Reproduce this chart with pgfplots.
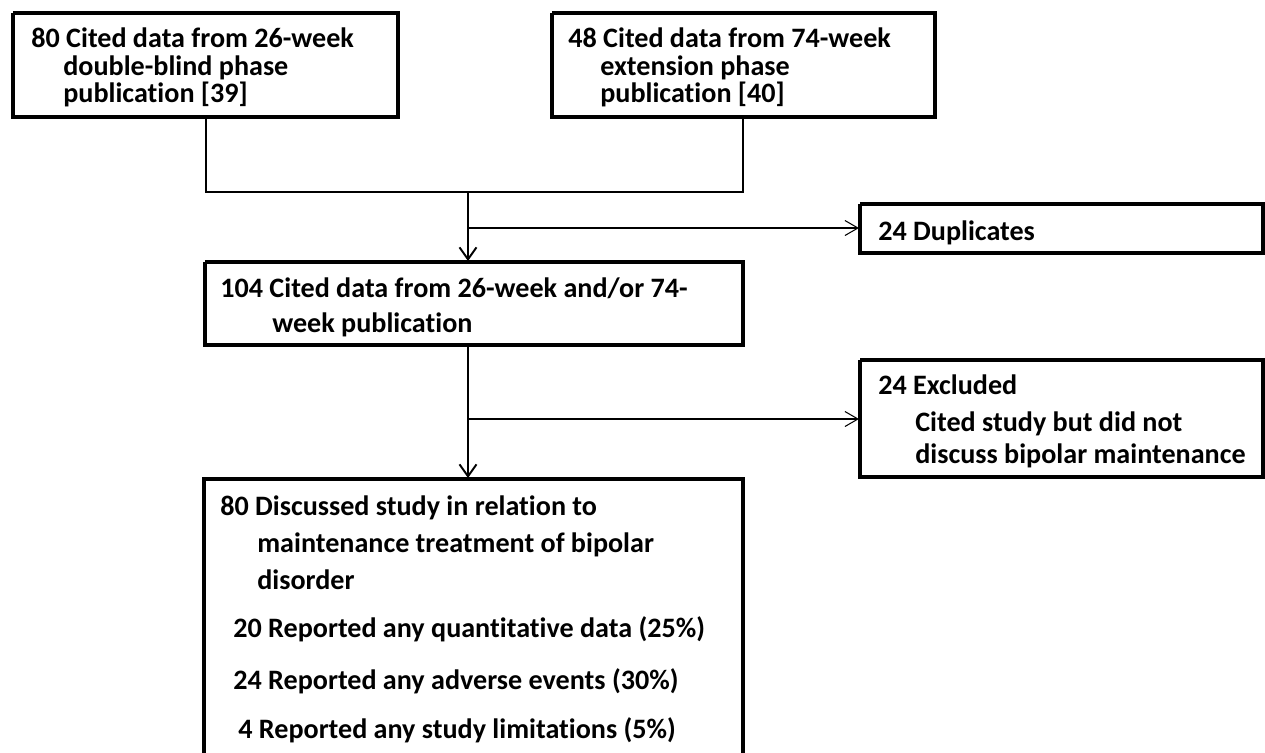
\documentclass[border=0pt]{standalone}
\usepackage{pgfplots}
\pgfplotsset{compat=1.18}
\usepackage{fontspec}
\setmainfont{Carlito}[Ligatures=NoCommon]
\usetikzlibrary{arrows.meta}
\begin{document}
\begin{tikzpicture}[tx/.style={font=\fontsize{16}{19}\selectfont\bfseries, anchor=base west, inner sep=0pt}]
\begin{axis}[
  width=253mm, height=150.4mm, scale only axis,
  xmin=0, xmax=1265, ymin=0, ymax=752, y dir=reverse,
  hide axis, clip=true,
]
\path (axis cs:0,0) (axis cs:1265,752);
% boxes
\addplot[black, line width=1.8pt] coordinates {(13,13) (398,13) (398,117) (13,117) (13,13)};
\addplot[black, line width=1.8pt] coordinates {(552,13) (935,13) (935,117) (552,117) (552,13)};
\addplot[black, line width=1.8pt] coordinates {(860,204) (1263,204) (1263,253) (860,253) (860,204)};
\addplot[black, line width=1.8pt] coordinates {(205,262) (743,262) (743,345) (205,345) (205,262)};
\addplot[black, line width=1.8pt] coordinates {(860,360) (1263,360) (1263,477) (860,477) (860,360)};
\addplot[black, line width=1.8pt] coordinates {(204,770) (204,479) (743,479) (743,770)};
% connectors
\addplot[black, line width=1.1pt] coordinates {(206,117) (206,192) (743,192) (743,117)};
\addplot[black, line width=1.1pt, -{Straight Barb[length=2.4mm,width=3.4mm,line width=1.1pt]}] coordinates {(468,192) (468,261)};
\addplot[black, line width=0.6pt, -{Straight Barb[length=2.6mm,width=3mm,line width=0.6pt]}] coordinates {(468,228) (859,228)};
\addplot[black, line width=1.1pt, -{Straight Barb[length=2.4mm,width=3.4mm,line width=1.1pt]}] coordinates {(468,345) (468,478)};
\addplot[black, line width=0.6pt, -{Straight Barb[length=2.6mm,width=3mm,line width=0.6pt]}] coordinates {(468,419) (859,419)};
% texts
\node[tx] at (axis cs:31,47) {80 Cited data from 26-week};
\node[tx] at (axis cs:63,75) {double-blind phase};
\node[tx] at (axis cs:63,102) {publication [39]};
\node[tx] at (axis cs:568,47) {48 Cited data from 74-week};
\node[tx] at (axis cs:600,75) {extension phase};
\node[tx] at (axis cs:600,102) {publication [40]};
\node[tx] at (axis cs:878,240) {24 Duplicates};
\node[tx] at (axis cs:220,297) {104 Cited data from 26-week and/or 74-};
\node[tx] at (axis cs:272,332) {week publication};
\node[tx] at (axis cs:878,394) {24 Excluded};
\node[tx] at (axis cs:915,431) {Cited study but did not};
\node[tx] at (axis cs:915,463) {discuss bipolar maintenance};
\node[tx] at (axis cs:220,515) {80 Discussed study in relation to};
\node[tx] at (axis cs:257,552) {maintenance treatment of bipolar};
\node[tx] at (axis cs:257,589) {disorder};
\node[tx] at (axis cs:233,637) {20 Reported any quantitative data (25\%)};
\node[tx] at (axis cs:233,689) {24 Reported any adverse events (30\%)};
\node[tx] at (axis cs:238,738) {4 Reported any study limitations (5\%)};
\end{axis}
\end{tikzpicture}
\end{document}
